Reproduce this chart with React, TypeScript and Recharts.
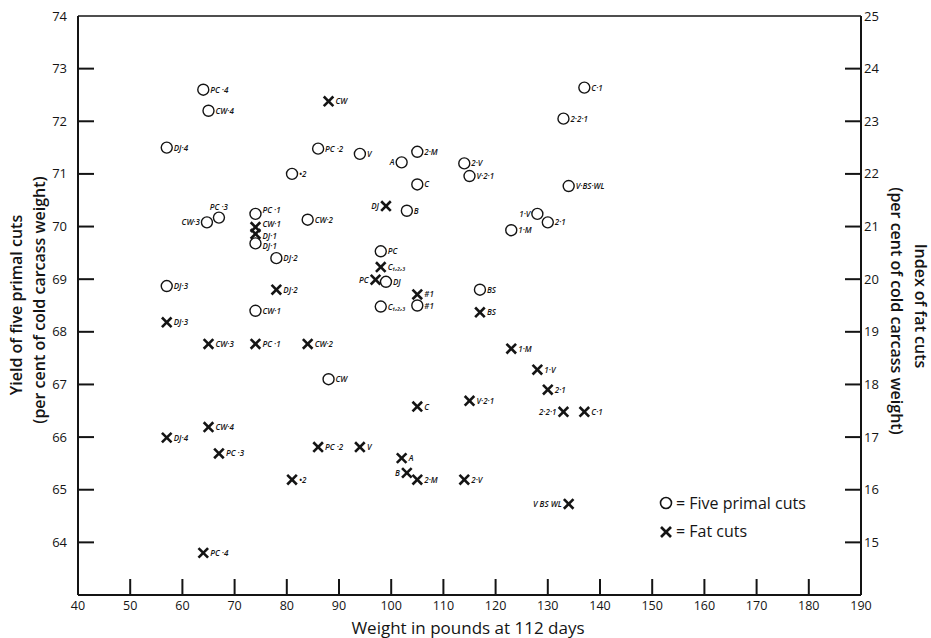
import React from "react";
import { ScatterChart, Scatter, XAxis, YAxis, ReferenceLine } from "recharts";

// five primal cuts, read on the left axis
const primalWeight = [64, 65, 57, 81, 86, 94, 102, 105, 114, 115, 105, 103, 64.7, 67, 74, 74, 78, 57, 74, 84, 98, 99, 98, 105, 117, 128, 130, 123, 137, 133, 134, 88];
const primalYield = [72.6, 72.2, 71.5, 71.0, 71.48, 71.38, 71.22, 71.42, 71.2, 70.96, 70.8, 70.3, 70.08, 70.17, 70.24, 69.68, 69.4, 68.87, 68.4, 70.13, 69.53, 68.95, 68.48, 68.5, 68.8, 70.24, 70.08, 69.93, 72.64, 72.05, 70.77, 67.1];
const primalTag = ["PC ·4", "CW·4", "DJ·4", "•2", "PC ·2", "V", "A", "2·M", "2·V", "V·2·1", "C", "B", "CW·3", "PC ·3", "PC ·1", "DJ·1", "DJ·2", "DJ·3", "CW·1", "CW·2", "PC", "DJ", "C₁,₂,₃", "#1", "BS", "1·V", "2·1", "1·M", "C·1", "2·2·1", "V·BS·WL", "CW"];

// fat cuts, read on the right axis
const fatWeight = [88, 99, 74, 74, 78, 98, 97, 105, 117, 57, 65, 74, 84, 123, 128, 130, 133, 137, 105, 115, 65, 57, 67, 81, 86, 94, 102, 103, 105, 114, 134, 64];
const fatIndex = [23.38, 21.39, 20.99, 20.86, 19.8, 20.23, 19.99, 19.71, 19.37, 19.18, 18.77, 18.77, 18.77, 18.68, 18.28, 17.9, 17.48, 17.48, 17.58, 17.69, 17.19, 16.99, 16.69, 16.19, 16.81, 16.81, 16.6, 16.32, 16.19, 16.19, 15.73, 14.8];
const fatTag = ["CW", "DJ", "CW·1", "DJ·1", "DJ·2", "C₁,₂,₃", "PC", "#1", "BS", "DJ·3", "CW·3", "PC ·1", "CW·2", "1·M", "1·V", "2·1", "2·2·1", "C·1", "C", "V·2·1", "CW·4", "DJ·4", "PC ·3", "•2", "PC ·2", "V", "A", "B", "2·M", "2·V", "V BS WL", "PC ·4"];

const xTicks = [40, 50, 60, 70, 80, 90, 100, 110, 120, 130, 140, 150, 160, 170, 180, 190];
const leftTicks = [64, 65, 66, 67, 68, 69, 70, 71, 72, 73, 74];
const rightTicks = [15, 16, 17, 18, 19, 20, 21, 22, 23, 24, 25];

// where the little tags sit (default is to the right of the mark)
const primalSide: Record<number, string> = { 6: "l", 12: "l", 13: "t", 14: "ru", 15: "rd", 25: "l" };
const fatSide: Record<number, string> = { 1: "l", 2: "ru", 3: "rd", 6: "l", 16: "l", 27: "l", 30: "l" };

const W = 931;
const H = 638;
const LEFT = 78;
const RIGHT = 861;
const TOP = 16;
const BOTTOM = 595;
const INK = "#141414";
const FONT = "'Open Sans', 'DejaVu Sans', sans-serif";

const primalData = primalWeight.map((w, i) => ({ w, v: primalYield[i], tag: primalTag[i], side: primalSide[i] || "r" }));
const fatData = fatWeight.map((w, i) => ({ w, v: fatIndex[i], tag: fatTag[i], side: fatSide[i] || "r" }));

function Tag({ cx, cy, text, side }: any) {
  let x = cx + 7;
  let y = cy + 3;
  let anchor = "start";
  if (side === "l") {
    x = cx - 7;
    anchor = "end";
  } else if (side === "t") {
    x = cx;
    y = cy - 8;
    anchor = "middle";
  } else if (side === "ru") {
    y = cy - 0.5;
  } else if (side === "rd") {
    y = cy + 5.5;
  }
  return (
    <text x={x} y={y} textAnchor={anchor} fontSize={8} fontStyle="italic" fontWeight={600} fill={INK} fontFamily={FONT}>
      {text}
    </text>
  );
}

const Ring = (p: any) => (
  <g>
    <circle cx={p.cx} cy={p.cy} r={5.5} fill="none" stroke={INK} strokeWidth={1.4} />
    <Tag cx={p.cx} cy={p.cy} text={p.payload.tag} side={p.payload.side} />
  </g>
);

const Cross = (p: any) => {
  const s = 4.8;
  return (
    <g>
      <line x1={p.cx - s} y1={p.cy - s} x2={p.cx + s} y2={p.cy + s} stroke={INK} strokeWidth={2.6} />
      <line x1={p.cx - s} y1={p.cy + s} x2={p.cx + s} y2={p.cy - s} stroke={INK} strokeWidth={2.6} />
      <Tag cx={p.cx} cy={p.cy} text={p.payload.tag} side={p.payload.side} />
    </g>
  );
};

const XTick = ({ x, payload }: any) => {
  const v = payload.value;
  const edge = v === 40 || v === 190;
  return (
    <g>
      {!edge && <line x1={x} x2={x} y1={BOTTOM} y2={BOTTOM - 16} stroke={INK} strokeWidth={2} />}
      <text x={x} y={610} textAnchor="middle" fontSize={12.5} fill={INK} fontFamily={FONT}>{v}</text>
    </g>
  );
};

const LeftTick = ({ y, payload }: any) => {
  const v = payload.value;
  return (
    <g>
      {v !== 74 && <line x1={LEFT} x2={LEFT + 16} y1={y} y2={y} stroke={INK} strokeWidth={2} />}
      <text x={67} y={y + 4.5} textAnchor="end" fontSize={13} fill={INK} fontFamily={FONT}>{v}</text>
    </g>
  );
};

const RightTick = ({ y, payload }: any) => {
  const v = payload.value;
  return (
    <g>
      {v !== 25 && <line x1={RIGHT - 16} x2={RIGHT} y1={y} y2={y} stroke={INK} strokeWidth={2} />}
      <text x={864} y={y + 4.5} textAnchor="start" fontSize={13} fill={INK} fontFamily={FONT}>{v}</text>
    </g>
  );
};

export default function App() {
  return (
    <div style={{ position: "absolute", left: 0, top: 0, width: W, height: H, background: "#fff" }}>
      <ScatterChart width={W} height={H} margin={{ top: TOP, right: 0, bottom: 0, left: 0 }}>
        <XAxis
          type="number"
          dataKey="w"
          domain={[40, 190]}
          ticks={xTicks}
          interval={0}
          height={H - BOTTOM}
          tickLine={false}
          tick={XTick}
          axisLine={{ stroke: INK, strokeWidth: 2 }}
        />
        <YAxis
          yAxisId="left"
          type="number"
          dataKey="v"
          domain={[63, 74]}
          ticks={leftTicks}
          interval={0}
          width={LEFT}
          tickLine={false}
          tick={LeftTick}
          axisLine={{ stroke: INK, strokeWidth: 2 }}
        />
        <YAxis
          yAxisId="right"
          orientation="right"
          type="number"
          dataKey="v"
          domain={[14, 25]}
          ticks={rightTicks}
          interval={0}
          width={W - RIGHT}
          tickLine={false}
          tick={RightTick}
          axisLine={{ stroke: INK, strokeWidth: 2 }}
        />
        <ReferenceLine yAxisId="left" y={74} stroke={INK} strokeWidth={1.5} />
        <Scatter yAxisId="left" data={primalData} shape={Ring} isAnimationActive={false} />
        <Scatter yAxisId="right" data={fatData} shape={Cross} isAnimationActive={false} />
      </ScatterChart>
      <svg width={W} height={H} style={{ position: "absolute", left: 0, top: 0, pointerEvents: "none" }} fontFamily={FONT} fill={INK}>
        <text x={468} y={634} textAnchor="middle" fontSize={17}>Weight in pounds at 112 days</text>
        <text transform="translate(22,305) rotate(-90)" textAnchor="middle" fontSize={16} fontWeight={600}>Yield of five primal cuts</text>
        <text transform="translate(45,300) rotate(-90)" textAnchor="middle" fontSize={16} fontWeight={600}>(per cent of cold carcass weight)</text>
        <text transform="translate(915,306) rotate(90)" textAnchor="middle" fontSize={16} fontWeight={600}>Index of fat cuts</text>
        <text transform="translate(891,311) rotate(90)" textAnchor="middle" fontSize={16} fontWeight={600}>(per cent of cold carcass weight)</text>
        <circle cx={666} cy={503} r={5.5} fill="none" stroke={INK} strokeWidth={1.6} />
        <text x={676} y={509} fontSize={16}>= Five primal cuts</text>
        <line x1={661} y1={527} x2={671} y2={537} stroke={INK} strokeWidth={2.6} />
        <line x1={661} y1={537} x2={671} y2={527} stroke={INK} strokeWidth={2.6} />
        <text x={676} y={537} fontSize={16}>= Fat cuts</text>
      </svg>
    </div>
  );
}
